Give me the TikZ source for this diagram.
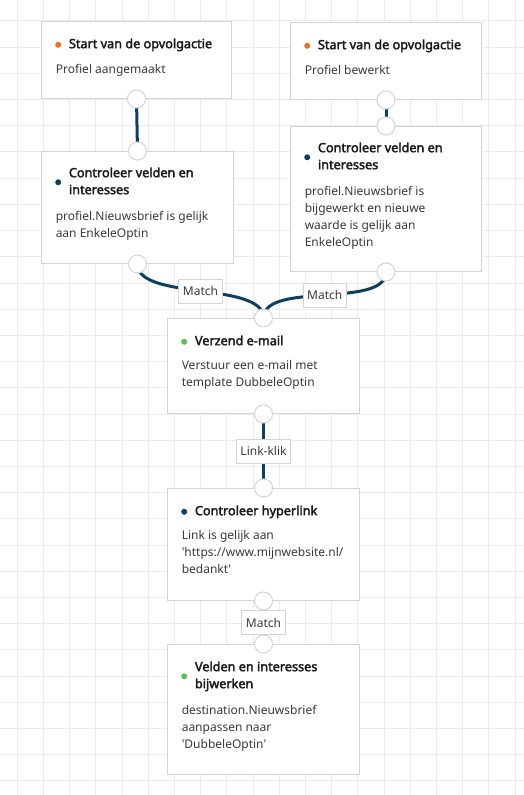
\documentclass[tikz,border=0pt]{standalone}
\usepackage{fontspec}
\setmainfont{Noto Sans}[Ligatures=TeXOff]
\newfontfamily\titlefont{Noto Sans}[Ligatures=TeXOff, FakeBold=2.6]
\usetikzlibrary{positioning,backgrounds}

\definecolor{gridgray}{HTML}{ECECEC}
\definecolor{boxgray}{HTML}{D4D4D4}
\definecolor{linkblue}{HTML}{0E3F5E}
\definecolor{dotorange}{HTML}{E8702A}
\definecolor{dotgreen}{HTML}{5CBD5A}
\definecolor{titletext}{HTML}{1A1A1A}
\definecolor{bodytext}{HTML}{3A3A3A}

\tikzset{
  gridline/.style={draw=gridgray, line width=0.75pt},
  stepbox/.style={rectangle, draw=boxgray, fill=white, line width=0.75pt, anchor=north west, inner sep=0pt},
  steptitle/.style={anchor=north west, inner sep=0pt, align=left, text=titletext, font=\titlefont\fontsize{9.5}{12.75}\selectfont},
  stepbody/.style={anchor=north west, inner sep=0pt, align=left, text=bodytext, font=\fontsize{9}{12.75}\selectfont},
  stepdot/.style={circle, inner sep=0pt, minimum size=4.5pt},
  port/.style={circle, draw=boxgray, fill=white, line width=0.75pt, minimum size=13.5pt, inner sep=0pt},
  link/.style={draw=linkblue, line width=2.25pt},
  tag/.style={rectangle, draw=boxgray, fill=white, line width=0.75pt, text=bodytext, font=\fontsize{9}{12.75}\selectfont, inner xsep=3pt, inner ysep=0pt, minimum height=18pt}
}

\begin{document}
\begin{tikzpicture}[x=0.75pt, y=-0.75pt]
\useasboundingbox (0,0) rectangle (524,795);

% Grid
\begin{pgfonlayer}{background}
\fill[white] (0,0) rectangle (524,795);
\foreach \k in {0,...,19}
  \draw[gridline] ({17.3+26.2*\k},0) -- ({17.3+26.2*\k},795);
\foreach \k in {0,...,29}
  \draw[gridline] (0,{21+26.2*\k}) -- (524,{21+26.2*\k});
\end{pgfonlayer}

% Start (profiel aangemaakt)
\node[stepbox, minimum width=142.5pt, minimum height=57.75pt] (start1) at (41,21) {};
\node[steptitle] (start1-t) at ([shift={(27.7,15)}]start1.north west) {\strut Start van de opvolgactie\strut};
\node[stepdot, fill=dotorange] (start1-d) at ([shift={(-10.5,0)}]start1-t.west) {};
\node[stepbody] (start1-b) at ([shift={(14.5,40)}]start1.north west) {\strut Profiel aangemaakt\strut};
\node[port] (start1-out) at (start1.south) {};

% Start (profiel bewerkt)
\node[stepbox, minimum width=143.25pt, minimum height=57.75pt] (start2) at (290,22) {};
\node[steptitle] (start2-t) at ([shift={(27.7,15)}]start2.north west) {\strut Start van de opvolgactie\strut};
\node[stepdot, fill=dotorange] (start2-d) at ([shift={(-10.5,0)}]start2-t.west) {};
\node[stepbody] (start2-b) at ([shift={(14.5,40)}]start2.north west) {\strut Profiel bewerkt\strut};
\node[port] (start2-out) at (start2.south) {};

% Check 1
\node[stepbox, minimum width=144pt, minimum height=84pt] (check1) at (41,151) {};
\node[steptitle] (check1-t) at ([shift={(27.7,14)}]check1.north west) {\strut Controleer velden en\\interesses\strut};
\node[stepdot, fill=linkblue] (check1-d) at ([shift={(-10.5,0)}]check1-t.west) {};
\node[stepbody] (check1-b) at ([shift={(14.5,57)}]check1.north west) {\strut profiel.Nieuwsbrief is gelijk\\aan EnkeleOptin\strut};
\node[port] (check1-in) at (check1.north) {};
\node[port] (check1-out) at (check1.south) {};

% Check 2
\node[stepbox, minimum width=143.25pt, minimum height=108.75pt] (check2) at (290,126) {};
\node[steptitle] (check2-t) at ([shift={(27.7,14)}]check2.north west) {\strut Controleer velden en\\interesses\strut};
\node[stepdot, fill=linkblue] (check2-d) at ([shift={(-10.5,0)}]check2-t.west) {};
\node[stepbody] (check2-b) at ([shift={(14.5,57)}]check2.north west) {\strut profiel.Nieuwsbrief is\\bijgewerkt en nieuwe\\waarde is gelijk aan\\EnkeleOptin\strut};
\node[port] (check2-in) at (check2.north) {};
\node[port] (check2-out) at (check2.south) {};

% Send mail
\node[stepbox, minimum width=144pt, minimum height=71.25pt] (mail) at (167,318) {};
\node[steptitle] (mail-t) at ([shift={(27.7,15)}]mail.north west) {\strut Verzend e-mail\strut};
\node[stepdot, fill=dotgreen] (mail-d) at ([shift={(-10.5,0)}]mail-t.west) {};
\node[stepbody] (mail-b) at ([shift={(14.5,39)}]mail.north west) {\strut Verstuur een e-mail met\\template DubbeleOptin\strut};
\node[port] (mail-in) at (mail.north) {};
\node[port] (mail-out) at (mail.south) {};

% Hyperlink
\node[stepbox, minimum width=144pt, minimum height=84pt] (link) at (167,488) {};
\node[steptitle] (link-t) at ([shift={(27.7,15)}]link.north west) {\strut Controleer hyperlink\strut};
\node[stepdot, fill=linkblue] (link-d) at ([shift={(-10.5,0)}]link-t.west) {};
\node[stepbody] (link-b) at ([shift={(14.5,39)}]link.north west) {\strut Link is gelijk aan\\'https://www.mijnwebsite.nl/\\bedankt'\strut};
\node[port] (link-in) at (link.north) {};
\node[port] (link-out) at (link.south) {};

% Update
\node[stepbox, minimum width=144pt, minimum height=97.5pt] (update) at (167,644) {};
\node[steptitle] (update-t) at ([shift={(27.7,15)}]update.north west) {\strut Velden en interesses\\bijwerken\strut};
\node[stepdot, fill=dotgreen] (update-d) at ([shift={(-10.5,0)}]update-t.west) {};
\node[stepbody] (update-b) at ([shift={(14.5,58)}]update.north west) {\strut destination.Nieuwsbrief\\aanpassen naar\\'DubbeleOptin'\strut};
\node[port] (update-in) at (update.north) {};

% Links
\begin{pgfonlayer}{background}
\draw[link] (start1-out.center) -- (check1-in.center);
\draw[link] (start2-out.center) -- (check2-in.center);
\draw[link] (check1-out.center) .. controls +(0,37) and +(0,-37) .. node[tag] (match1) {Match} (mail-in.center);
\draw[link] (check2-out.center) .. controls +(0,37) and +(0,-37) .. node[tag] (match2) {Match} (mail-in.center);
\draw[link] (mail-out.center) -- node[tag] (click) {Link-klik} (link-in.center);
\draw[link] (link-out.center) -- node[tag] (match3) {Match} (update-in.center);
\end{pgfonlayer}
\end{tikzpicture}
\end{document}
